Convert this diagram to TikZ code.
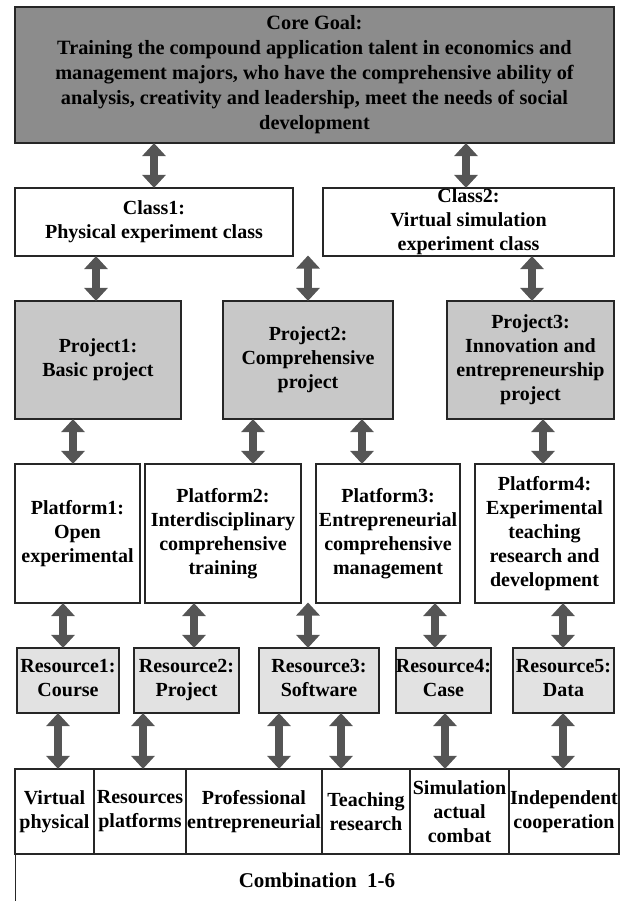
\documentclass[tikz,border=0pt]{standalone}
\usepackage{fontspec}
\setmainfont{Liberation Serif}
\usetikzlibrary{arrows.meta}
\definecolor{coregray}{RGB}{140,140,140}
\definecolor{projgray}{RGB}{200,200,200}
\definecolor{resgray}{RGB}{226,226,226}
\definecolor{arrgray}{RGB}{85,85,85}
\tikzset{
  box/.style={draw=black!85, line width=1.2pt, rectangle, inner sep=0pt, align=center,
    font=\bfseries\fontsize{20}{24}\selectfont},
  dbl/.style={draw=arrgray, line width=8pt,
    {Triangle[width=23pt,length=13pt]}-{Triangle[width=23pt,length=13pt]}, shorten <=-0.5pt, shorten >=-0.5pt}
}
\begin{document}
\begin{tikzpicture}[x=1pt,y=-1pt]
\useasboundingbox (0,0) rectangle (619,901);
% core
\node[box, fill=coregray, minimum width=599pt, minimum height=136pt, font=\bfseries\fontsize{20.3}{25}\selectfont] (core) at (314.5,75)
 {Core Goal:\\Training the compound application talent in economics and\\management majors, who have the comprehensive ability of\\analysis, creativity and leadership, meet the needs of social\\development};
% classes
\node[box, fill=white, minimum width=278pt, minimum height=68pt] (cl1) at (154,222) {Class1:\\Physical experiment class};
\node[box, fill=white, minimum width=291pt, minimum height=68pt] (cl2) at (468.5,222) {Class2:\\Virtual simulation\\experiment class};
% projects
\node[box, fill=projgray, minimum width=166pt, minimum height=118pt] (pr1) at (98,360) {Project1:\\Basic project};
\node[box, fill=projgray, minimum width=170pt, minimum height=118pt] (pr2) at (308,360) {Project2:\\Comprehensive\\project};
\node[box, fill=projgray, minimum width=167pt, minimum height=118pt] (pr3) at (530.5,360) {Project3:\\Innovation and\\entrepreneurship\\project};
% platforms
\node[box, fill=white, minimum width=125pt, minimum height=139pt] (pl1) at (77.5,533.5) {Platform1:\\Open\\experimental};
\node[box, fill=white, minimum width=156pt, minimum height=139pt] (pl2) at (223,533.5) {Platform2:\\Interdisciplinary\\comprehensive\\training};
\node[box, fill=white, minimum width=144pt, minimum height=139pt] (pl3) at (388,533.5) {Platform3:\\Entrepreneurial\\comprehensive\\management};
\node[box, fill=white, minimum width=139pt, minimum height=139pt] (pl4) at (544.5,533.5) {Platform4:\\Experimental\\teaching\\research and\\development};
% resources
\node[box, fill=resgray, minimum width=102pt, minimum height=65pt] (r1) at (68,680.5) {Resource1:\\Course\vphantom{g}};
\node[box, fill=resgray, minimum width=105pt, minimum height=65pt] (r2) at (186.5,680.5) {Resource2:\\Project\vphantom{g}};
\node[box, fill=resgray, minimum width=120pt, minimum height=65pt] (r3) at (319,680.5) {Resource3:\\Software\vphantom{g}};
\node[box, fill=resgray, minimum width=93pt, minimum height=65pt] (r4) at (443.5,680.5) {Resource4:\\Case\vphantom{g}};
\node[box, fill=resgray, minimum width=101pt, minimum height=65pt] (r5) at (563.5,680.5) {Resource5:\\Data\vphantom{g}};
% bottom row
\node[box, fill=white, minimum width=79pt, minimum height=85pt] (c1) at (54.5,811.5) {Virtual\\physical};
\node[box, fill=white, minimum width=92pt, minimum height=85pt] (c2) at (140,811.5) {Resources\\platforms};
\node[box, fill=white, minimum width=136pt, minimum height=85pt] (c3) at (254,811.5) {Professional\\entrepreneurial};
\node[box, fill=white, minimum width=88pt, minimum height=85pt] (c4) at (366,811.5) {Teaching\\research};
\node[box, fill=white, minimum width=99pt, minimum height=85pt] (c5) at (459.5,811.5) {Simulation\\actual\\combat};
\node[box, fill=white, minimum width=110pt, minimum height=85pt] (c6) at (564,811.5) {Independent\\cooperation};
\node[box, fill=white, minimum width=620pt, minimum height=60pt, anchor=north west] (comb) at (15,854) {};
\node[font=\bfseries\fontsize{21}{24}\selectfont] (combt) at (317,880) {Combination\ \ 1-6};
% arrows
\draw[dbl] (core.south -| 154,0) -- (cl1.north -| 154,0);
\draw[dbl] (core.south -| 466,0) -- (cl2.north -| 466,0);
\draw[dbl] (cl1.south -| 96,0) -- (pr1.north -| 96,0);
\coordinate (p2top) at (308,256);
\draw[dbl] (p2top) -- (pr2.north);
\draw[dbl] (cl2.south -| 532,0) -- (pr3.north -| 532,0);
\draw[dbl] (pr1.south -| 73,0) -- (pl1.north -| 73,0);
\draw[dbl] (pr2.south -| 253,0) -- (pl2.north -| 253,0);
\draw[dbl] (pr2.south -| 362,0) -- (pl3.north -| 362,0);
\draw[dbl] (pr3.south -| 543,0) -- (pl4.north -| 543,0);
\draw[dbl] (pl1.south -| 63,0) -- (r1.north -| 63,0);
\draw[dbl] (pl2.south -| 194,0) -- (r2.north -| 194,0);
\coordinate (r3top) at (308,603);
\draw[dbl] (r3top) -- (r3.north -| 308,0);
\draw[dbl] (pl3.south -| 435,0) -- (r4.north -| 435,0);
\draw[dbl] (pl4.south -| 563,0) -- (r5.north -| 563,0);
\draw[dbl] (r1.south -| 58,0) -- (c1.north -| 58,0);
\draw[dbl] (r2.south -| 143,0) -- (c2.north -| 143,0);
\draw[dbl] (r3.south -| 279,0) -- (c3.north -| 279,0);
\draw[dbl] (r3.south -| 341,0) -- (c4.north -| 341,0);
\draw[dbl] (r4.south -| 445,0) -- (c5.north -| 445,0);
\draw[dbl] (r5.south -| 563,0) -- (c6.north -| 563,0);
\end{tikzpicture}
\end{document}
